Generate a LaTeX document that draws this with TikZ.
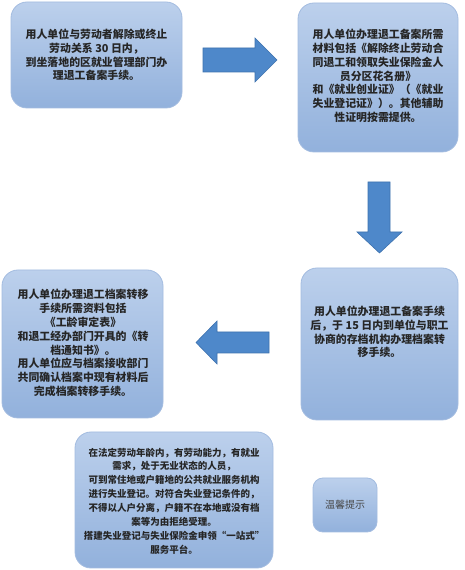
\documentclass[tikz,border=0pt]{standalone}
\usepackage{fontspec}
\newfontfamily\cjk{Noto Sans CJK SC}
\definecolor{boxtop}{HTML}{BCD0EC}
\definecolor{boxbot}{HTML}{92B1DC}
\definecolor{boxedge}{HTML}{A3BCE0}
\definecolor{arrowfill}{HTML}{4E88CA}
\definecolor{arrowedge}{HTML}{3E72AE}
\definecolor{txt}{HTML}{262626}
\begin{document}
\begin{tikzpicture}[x=1pt,y=1pt,
  infobox/.style={rounded corners=16pt, draw=boxedge, line width=0.8pt,
    top color=boxtop, bottom color=boxbot, inner sep=0pt},
  boxtext/.style={font=\cjk\bfseries\fontsize{10.9}{13.8}\selectfont, text=txt, align=center},
  blockarrow/.style={fill=arrowfill, draw=arrowedge, line width=0.6pt, line join=miter}]
\useasboundingbox (0,0) rectangle (465,570);
\fill[white] (0,0) rectangle (465,570);
% boxes (y = 570 - image y)
\path[infobox] (11,462) rectangle (182,568);
\node[boxtext] (b1) at (96.5,515) {用人单位与劳动者解除或终止\\劳动关系 30 日内，\\到坐落地的区就业管理部门办\\理退工备案手续。};

\path[infobox] (298,418) rectangle (458,567);
\node[boxtext] (b2) at (378,494) {用人单位办理退工备案所需\\材料包括《解除终止劳动合\\同退工和领取失业保险金人\\员分区花名册》\\和《就业创业证》（《就业\\失业登记证》）。其他辅助\\性证明按需提供。};

\path[infobox] (301,150) rectangle (458,302);
\node[boxtext] (b4) at (379.5,238) {用人单位办理退工备案手续\\后，于 15 日内到单位与职工\\协商的存档机构办理档案转\\移手续。};

\path[infobox] (2,152) rectangle (163,300);
\node[boxtext] (b3) at (83,227) {用人单位办理退工档案转移\\手续所需资料包括\\《工龄审定表》\\和退工经办部门开具的《转\\档通知书》。\\用人单位应与档案接收部门\\共同确认档案中现有材料后\\完成档案转移手续。};

\path[infobox] (75,2) rectangle (273,138);
\node[boxtext, font=\cjk\bfseries\fontsize{9.5}{13.9}\selectfont] (b5) at (174,69) {在法定劳动年龄内，有劳动能力，有就业\\需求，处于无业状态的人员，\\可到常住地或户籍地的公共就业服务机构\\进行失业登记。对符合失业登记条件的，\\不得以人户分离，户籍不在本地或没有档\\案等为由拒绝受理。\\搭建失业登记与失业保险金申领“一站式”\\服务平台。};

\path[infobox, rounded corners=10pt] (313,38) rectangle (377,92);
\node[font=\cjk\fontsize{10}{12}\selectfont, text=txt!85] (b6) at (345,65) {温馨提示};

% block arrows
\path[blockarrow] (203,522) -- (255,522) -- (255,532) -- (277,510) -- (255,488) -- (255,498) -- (203,498) -- cycle;
\path[blockarrow] (368,388) -- (390,388) -- (390,338) -- (402,338) -- (379.5,317) -- (357,338) -- (368,338) -- cycle;
\path[blockarrow] (269,238) -- (217,238) -- (217,249) -- (196,227.5) -- (217,206) -- (217,217) -- (269,217) -- cycle;
\end{tikzpicture}
\end{document}
